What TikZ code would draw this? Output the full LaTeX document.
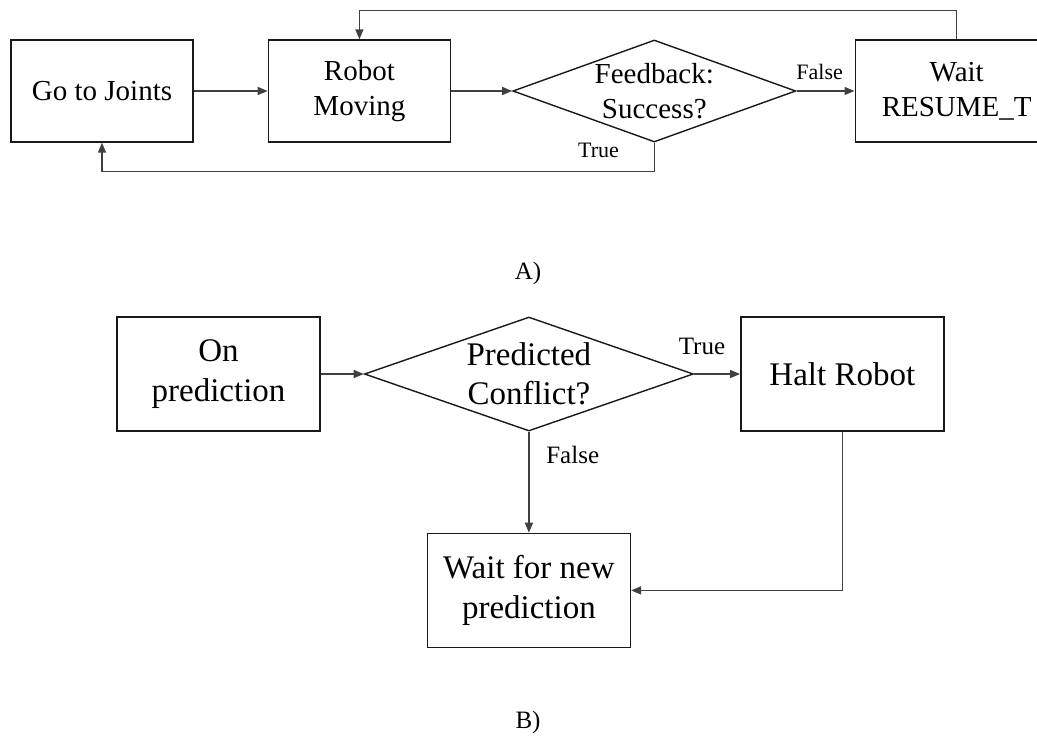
\documentclass[tikz,border=0pt]{standalone}
\usepackage{fontspec}
\setmainfont{Liberation Serif}
\usetikzlibrary{arrows.meta,positioning,shapes.geometric}

\begin{document}
\begin{tikzpicture}[
  x=0.5pt, y=-0.5pt,
  box/.style={draw=black!90, line width=0.7pt, align=center, minimum width=91pt, minimum height=51pt, inner sep=2pt, font=\fontsize{14.5}{17.5}\selectfont},
  bigbox/.style={box, minimum width=101.5pt, minimum height=57pt, font=\fontsize{16.5}{19.7}\selectfont},
  decision/.style={draw=black!90, line width=0.7pt, diamond, align=center, inner sep=0pt, aspect=2.77, minimum width=141.5pt, minimum height=51pt, font=\fontsize{14.5}{17.5}\selectfont},
  bigdecision/.style={decision, aspect=2.89, minimum width=164.5pt, minimum height=57pt, font=\fontsize{16.5}{19.7}\selectfont},
  flow/.style={draw=black!75, line width=0.75pt},
  tag/.style={font=\fontsize{11}{13}\selectfont},
  bigtag/.style={font=\fontsize{12.5}{15}\selectfont},
  >={Triangle[length=5pt, width=4pt]}
]
\clip (0,0) rectangle (1037,740);

% A) robot motion loop
\node[box] (joints) at (102,91) {Go to Joints};
\node[box, right=37pt of joints] (moving) {Robot \\ Moving};
\node[decision, right=30.5pt of moving] (feedback) {Feedback: \\ Success?};
\node[box, minimum width=101.5pt, right=29pt of feedback] (resume) {Wait \\ RESUME\_T};
\node[bigtag] (capA) at (528,273) {A)};

\draw[flow,->] (joints) -- (moving);
\draw[flow,->] (moving) -- (feedback);
\draw[flow,->] (feedback.east) -- node[tag, above=2pt, pos=0.4] {False} (resume);
\draw[flow,->] (feedback.south) -- node[tag, left=14pt, pos=0.25] {True} ++(0,29) -| (joints.south);
\draw[flow,->] (resume.north) -- ++(0,-29) -| (moving.north);

% B) prediction handling
\node[bigbox] (onpred) at (218.5,374) {On \\ prediction};
\node[bigdecision, right=21.5pt of onpred] (conflict) {Predicted \\ Conflict?};
\node[bigbox, right=23pt of conflict] (halt) {Halt Robot};
\node[bigbox, below=50.5pt of conflict] (waitnew) {Wait for new \\ prediction};
\node[bigtag] (capB) at (528,722) {B)};

\draw[flow,->] (onpred) -- (conflict);
\draw[flow,->] (conflict.east) -- node[bigtag, above=6pt, pos=0.17] {True} (halt);
\draw[flow,->] (conflict.south) -- node[bigtag, right=5pt, pos=0.23] {False} (waitnew);
\draw[flow,->] (halt.south) |- (waitnew.east);

\end{tikzpicture}
\end{document}
